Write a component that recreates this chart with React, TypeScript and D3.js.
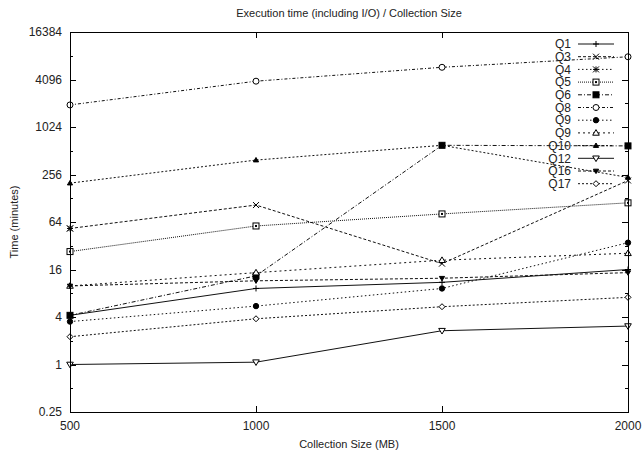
import React, { useRef, useEffect } from 'react';
import * as d3 from 'd3';

// collection sizes (MB)
const sizes = [500, 1000, 1500, 2000];

// time in minutes
const q1 = [4.2, 9.2, 11, 16];
const q3 = [53, 105, 19, 215];
const q4 = [53];
const q5 = [27, 57, 81, 112];
const q6 = [4.2, 13.3, 600, 590];
const q8 = [1950, 3900, 5850, 7950];
const q9a = [3.5, 5.5, 9.2, 35];
const q9b = [9.9, 14.6, 21, 25.7];
const q10 = [199, 390, 600, 235];
const q12 = [1.0, 1.07, 2.68, 3.07];
const q16 = [9.9, 11.5, 12.4, 14.6];
const q17 = [2.25, 3.8, 5.4, 7.1];

const yTicks = [0.25, 1, 4, 16, 64, 256, 1024, 4096, 16384];
const yMinor = [0.5, 2, 8, 32, 128, 512, 2048, 8192];
const xTicks = [500, 1000, 1500, 2000];

const series = [
  { name: 'Q1', values: q1, dash: null, marker: 'plus' },
  { name: 'Q3', values: q3, dash: '3,2', marker: 'cross' },
  { name: 'Q4', values: q4, dash: '1.5,2.5', marker: 'star' },
  { name: 'Q5', values: q5, dash: '1,1', marker: 'boxDot' },
  { name: 'Q6', values: q6, dash: '4,2,1,2', marker: 'box' },
  { name: 'Q8', values: q8, dash: '3,2,1,2', marker: 'circle' },
  { name: 'Q9', values: q9a, dash: '1.5,2.5', marker: 'dot' },
  { name: 'Q9', values: q9b, dash: '2,3', marker: 'triangle' },
  { name: 'Q10', values: q10, dash: '2,2', marker: 'triangleFill' },
  { name: 'Q12', values: q12, dash: null, marker: 'triangleDown' },
  { name: 'Q16', values: q16, dash: '3,2', marker: 'triangleDownFill' },
  { name: 'Q17', values: q17, dash: '2,2', marker: 'diamond' },
];

function drawMarker(g, type, x, y) {
  const s = 3;
  const k = 'black';
  if (type === 'plus' || type === 'star') {
    g.append('path').attr('d', `M${x - s},${y}H${x + s}M${x},${y - s}V${y + s}`).attr('stroke', k);
  }
  if (type === 'cross' || type === 'star') {
    g.append('path').attr('d', `M${x - s},${y - s}L${x + s},${y + s}M${x - s},${y + s}L${x + s},${y - s}`).attr('stroke', k);
  }
  if (type === 'box' || type === 'boxDot') {
    g.append('rect').attr('x', x - 3).attr('y', y - 3).attr('width', 6).attr('height', 6)
      .attr('fill', type === 'box' ? k : 'white').attr('stroke', k);
    if (type === 'boxDot') g.append('rect').attr('x', x - 1).attr('y', y - 1).attr('width', 2).attr('height', 2).attr('fill', k);
  }
  if (type === 'circle' || type === 'dot') {
    g.append('circle').attr('cx', x).attr('cy', y).attr('r', type === 'dot' ? 2.7 : 3)
      .attr('fill', type === 'dot' ? k : 'white').attr('stroke', k);
  }
  if (type === 'triangle' || type === 'triangleFill') {
    const r = type === 'triangleFill' ? 2.6 : 3.3;
    g.append('path').attr('d', `M${x},${y - r}L${x + r},${y + r * 0.7}L${x - r},${y + r * 0.7}Z`)
      .attr('fill', type === 'triangleFill' ? k : 'white').attr('stroke', k);
  }
  if (type === 'triangleDown' || type === 'triangleDownFill') {
    const r = type === 'triangleDownFill' ? 2.6 : 3.3;
    g.append('path').attr('d', `M${x},${y + r}L${x + r},${y - r * 0.7}L${x - r},${y - r * 0.7}Z`)
      .attr('fill', type === 'triangleDownFill' ? k : 'white').attr('stroke', k);
  }
  if (type === 'diamond') {
    g.append('path').attr('d', `M${x},${y - 3}L${x + 3},${y}L${x},${y + 3}L${x - 3},${y}Z`)
      .attr('fill', 'white').attr('stroke', k);
  }
}

function ExecChart() {
  const ref = useRef(null);

  useEffect(() => {
    const svg = d3.select(ref.current);
    svg.selectAll('*').remove();

    const width = 643, height = 454;
    const left = 70, right = 628, top = 32, bottom = 412;

    svg.attr('width', width).attr('height', height)
      .style('font-family', '"Liberation Sans", Arial, sans-serif');

    const x = d3.scaleLinear().domain([500, 2000]).range([left, right]);
    const y = d3.scaleLog().base(2).domain([0.25, 16384]).range([bottom, top]);

    // ticks on all four sides
    const ticks = svg.append('g').attr('stroke', 'black').attr('stroke-width', 1);
    yTicks.forEach((v) => {
      const yy = Math.round(y(v)) + 0.5;
      ticks.append('line').attr('x1', left).attr('x2', left + 6).attr('y1', yy).attr('y2', yy);
      ticks.append('line').attr('x1', right).attr('x2', right - 6).attr('y1', yy).attr('y2', yy);
    });
    yMinor.forEach((v) => {
      const yy = Math.round(y(v)) + 0.5;
      ticks.append('line').attr('x1', left).attr('x2', left + 3).attr('y1', yy).attr('y2', yy);
      ticks.append('line').attr('x1', right).attr('x2', right - 3).attr('y1', yy).attr('y2', yy);
    });
    xTicks.forEach((v) => {
      const xx = Math.round(x(v)) + 0.5;
      ticks.append('line').attr('x1', xx).attr('x2', xx).attr('y1', bottom).attr('y2', bottom - 6);
      ticks.append('line').attr('x1', xx).attr('x2', xx).attr('y1', top).attr('y2', top + 6);
    });

    const lbl = svg.append('g').attr('font-size', 12).attr('fill', '#222');
    yTicks.forEach((v) => {
      lbl.append('text').attr('x', 62).attr('y', y(v) + 4).attr('text-anchor', 'end').text(String(v));
    });
    xTicks.forEach((v) => {
      lbl.append('text').attr('x', x(v)).attr('y', 430).attr('text-anchor', 'middle').text(String(v));
    });

    lbl.append('text').attr('x', 349).attr('y', 17).attr('text-anchor', 'middle')
      .attr('font-size', 11).text('Execution time (including I/O) / Collection Size');
    lbl.append('text').attr('x', 349).attr('y', 448).attr('text-anchor', 'middle')
      .attr('font-size', 11).text('Collection Size (MB)');
    lbl.append('text').attr('transform', 'rotate(-90)').attr('x', -222).attr('y', 18)
      .attr('text-anchor', 'middle').attr('font-size', 11).text('Time (minutes)');

    const line = d3.line()
      .x((d) => x(d[0]))
      .y((d) => y(d[1]));

    const plot = svg.append('g');
    series.forEach((s) => {
      const pts = s.values.map((v, i) => [sizes[i], v]);
      if (pts.length > 1) {
        plot.append('path').datum(pts)
          .attr('fill', 'none').attr('stroke', '#111').attr('stroke-width', 1)
          .attr('stroke-dasharray', s.dash)
          .attr('d', line);
      }
      pts.forEach((p) => drawMarker(plot, s.marker, x(p[0]), y(p[1])));
    });

    // legend
    const leg = svg.append('g');
    series.forEach((s, i) => {
      const ly = 44 + i * 12.7;
      leg.append('text').attr('x', 571).attr('y', ly + 4.2).attr('text-anchor', 'end')
        .attr('font-size', 12).attr('fill', '#222').text(s.name);
      leg.append('line').attr('x1', 578).attr('x2', 614).attr('y1', ly).attr('y2', ly)
        .attr('stroke', '#111').attr('stroke-dasharray', s.dash);
      drawMarker(leg, s.marker, 596, ly);
    });

    svg.append('rect').attr('x', left + 0.5).attr('y', top + 0.5)
      .attr('width', right - left).attr('height', bottom - top)
      .attr('fill', 'none').attr('stroke', 'black').attr('stroke-width', 1);
  }, []);

  return <svg ref={ref} style={{ position: 'absolute', left: 0, top: 0 }}></svg>;
}

export default function App() {
  return <ExecChart />;
}
